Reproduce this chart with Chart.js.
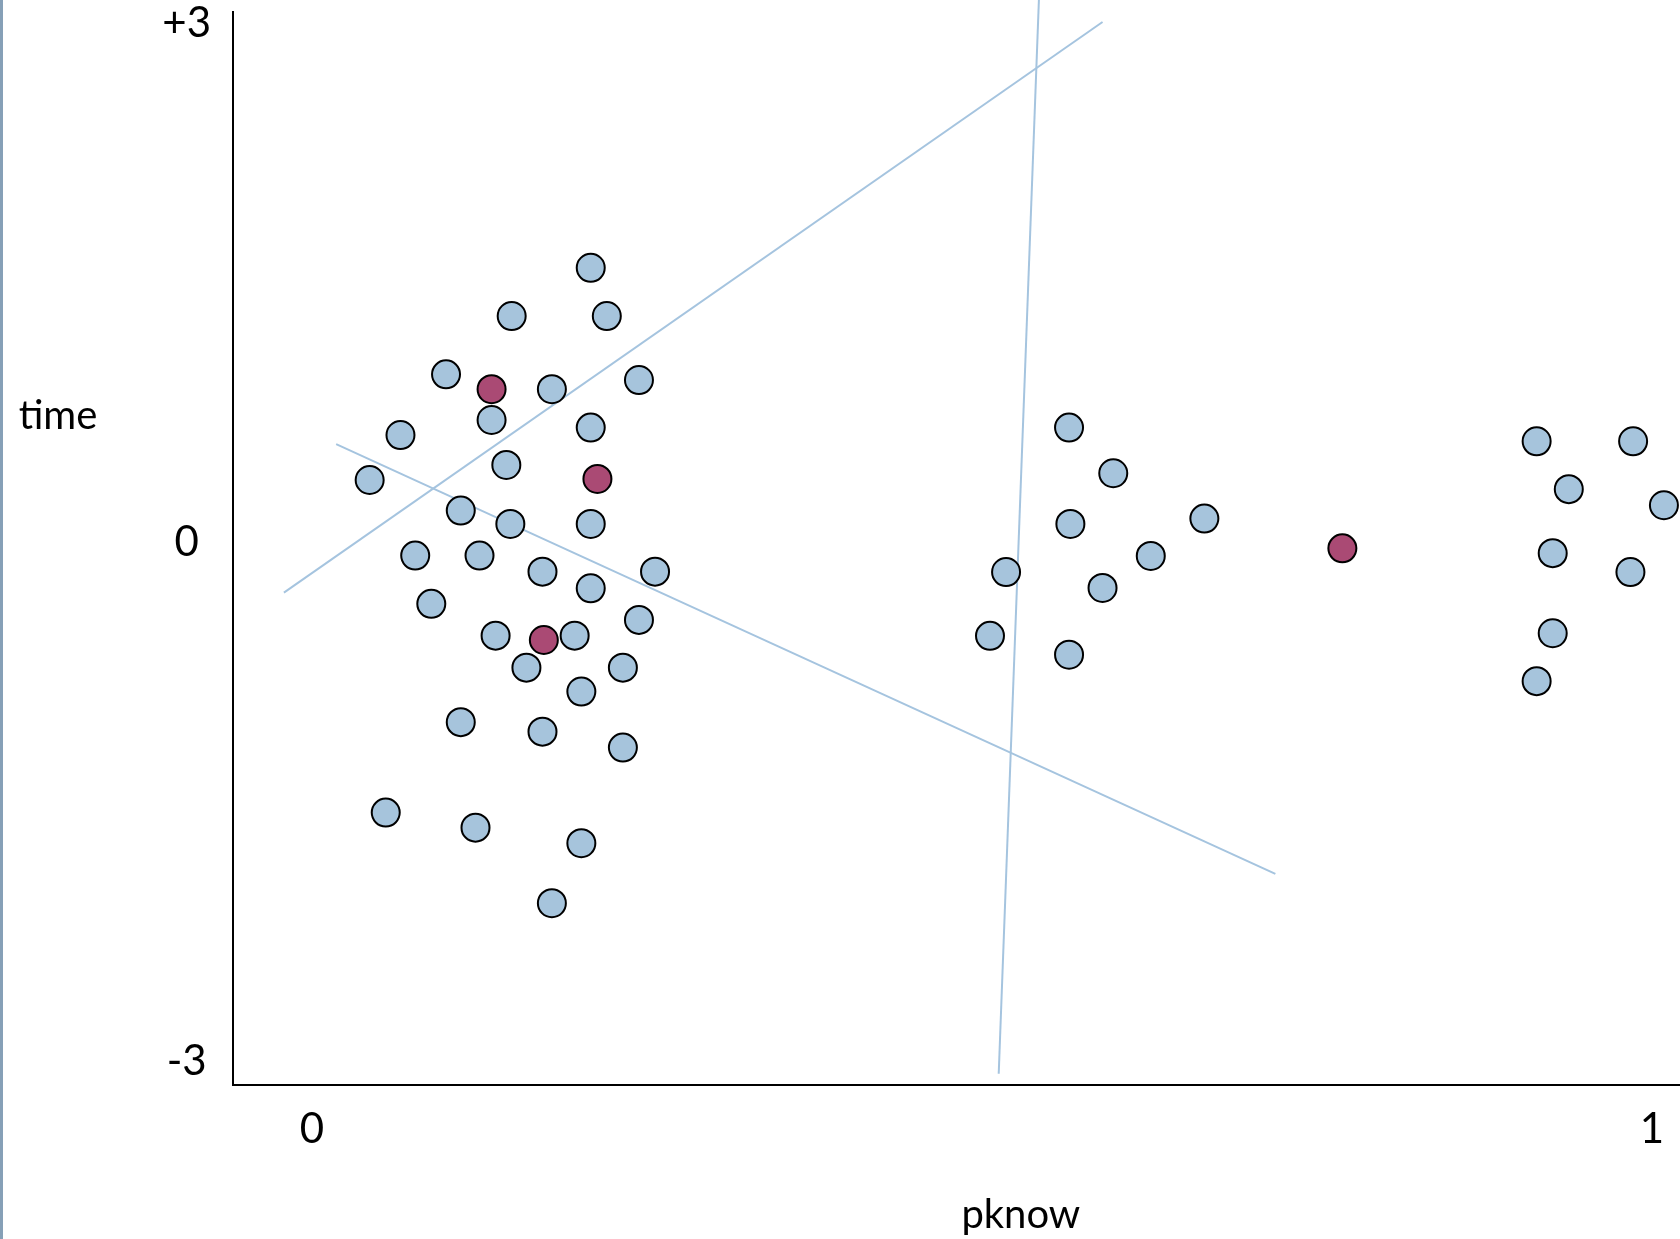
<!DOCTYPE html>
<html>
<head>
<meta charset="utf-8">
<script src="https://cdn.jsdelivr.net/npm/chart.js@4.4.1/dist/chart.umd.min.js"></script>
<style>
  html, body { margin: 0; padding: 0; background: #fff; overflow: hidden; }
  #wrap { position: relative; width: 1680px; height: 1239px; }
  #edge { position: absolute; left: 0; top: 0; width: 3px; height: 1239px; background: #86a0b7; }
</style>
</head>
<body>
<div id="wrap">
  <canvas id="scatter_chart"></canvas>
  <div id="edge"></div>
</div>
<script>
// points as [pknow, time]
var leftCluster = [
  [0.208, 1.588], [0.149, 1.309], [0.220, 1.309], [0.100, 0.972], [0.179, 0.886],
  [0.244, 0.939], [0.134, 0.708], [0.066, 0.621], [0.208, 0.664], [0.145, 0.448],
  [0.043, 0.361], [0.111, 0.184], [0.148, 0.107], [0.208, 0.107], [0.077, -0.076],
  [0.125, -0.076], [0.172, -0.169], [0.208, -0.265], [0.256, -0.169], [0.089, -0.355],
  [0.137, -0.539], [0.196, -0.539], [0.244, -0.448], [0.160, -0.724], [0.232, -0.724],
  [0.201, -0.862], [0.111, -1.039], [0.172, -1.094], [0.232, -1.186], [0.055, -1.562],
  [0.122, -1.649], [0.201, -1.739], [0.179, -2.086]
]
var midCluster = [
  [0.565, 0.664], [0.598, 0.400], [0.566, 0.107], [0.666, 0.138], [0.626, -0.078],
  [0.518, -0.171], [0.590, -0.263], [0.506, -0.540], [0.565, -0.649]
]
var rightCluster = [
  [0.914, 0.585], [0.986, 0.585], [0.938, 0.308], [1.009, 0.215], [0.926, -0.062],
  [0.984, -0.171], [0.926, -0.525], [0.914, -0.802]
]
var highlighted = [
  [0.134, 0.886], [0.213, 0.367], [0.173, -0.564], [0.769, -0.034]
]
var lineA = [[-0.021, -0.290], [0.590, 3.009]]
var lineB = [[0.018, 0.569], [0.719, -1.916]]
var lineC = [[0.5425, 3.136], [0.5125, -3.072]]

var xTickValues = [0, 1]
var xTickLabels = ["0", "1"]
var yTickValues = [-3, 0, 3]
var yTickLabels = ["-3", "0", "+3"]

var xTitle = "pknow"
var yTitle = "time"

var blueFill = "#a6c4dc"
var redFill = "#aa4a74"
var lineColor = "#a5c4df"
var fontFamily = "Lato, 'Liberation Sans', sans-serif"

function toXY(list) {
  return list.map(function (p) { return {x: p[0], y: p[1]} })
}

function lineDataset(list) {
  return {
    type: "line",
    data: toXY(list),
    borderColor: lineColor,
    borderWidth: 2,
    pointRadius: 0,
    showLine: true,
    fill: false,
    clip: false,
    order: 5
  }
}

var titlesPlugin = {
  id: "axisTitles",
  afterDraw: function (chart) {
    var ctx = chart.ctx
    var xs = chart.scales.x
    var ys = chart.scales.y
    ctx.save()
    ctx.fillStyle = "#000"
    ctx.font = "40px " + fontFamily
    ctx.textAlign = "center"
    ctx.textBaseline = "alphabetic"
    ctx.fillText(yTitle, 58, ys.getPixelForValue(0.655))
    ctx.fillText(xTitle, xs.getPixelForValue(0.529), 1228)
    ctx.restore()
  }
}

var ctx = document.getElementById("scatter_chart").getContext("2d")
new Chart(ctx, {
  type: "scatter",
  data: {
    datasets: [
      {
        data: toXY(highlighted),
        backgroundColor: redFill,
        borderColor: "#000",
        borderWidth: 2,
        pointRadius: 14,
        clip: false,
        order: 1
      },
      {
        data: toXY(leftCluster.concat(midCluster, rightCluster)),
        backgroundColor: blueFill,
        borderColor: "#000",
        borderWidth: 2,
        pointRadius: 14,
        clip: false,
        order: 2
      },
      lineDataset(lineA),
      lineDataset(lineB),
      lineDataset(lineC)
    ]
  },
  options: {
    responsive: true,
    maintainAspectRatio: false,
    animation: false,
    events: [],
    layout: {autoPadding: false, padding: {top: 12, left: 0, right: 0, bottom: 0}},
    plugins: {
      legend: {display: false},
      tooltip: {enabled: false}
    },
    scales: {
      x: {
        type: "linear",
        min: -0.059,
        max: 1.021,
        grid: {display: false, drawTicks: false},
        border: {display: true, color: "#000", width: 2},
        afterBuildTicks: function (scale) {
          scale.ticks = xTickValues.map(function (v) { return {value: v} })
        },
        afterFit: function (scale) {
          scale.height = 154
          scale.paddingLeft = 0
          scale.paddingRight = 0
        },
        ticks: {
          padding: 19,
          maxRotation: 0,
          autoSkip: false,
          color: "#000",
          font: {family: fontFamily, size: 42},
          callback: function (value) {
            return xTickLabels[xTickValues.indexOf(value)]
          }
        }
      },
      y: {
        type: "linear",
        min: -3.137,
        max: 3.067,
        grid: {display: false, drawTicks: false},
        border: {display: true, color: "#000", width: 2},
        afterBuildTicks: function (scale) {
          scale.ticks = yTickValues.map(function (v) { return {value: v} })
        },
        afterFit: function (scale) {
          scale.width = 233
          scale.paddingTop = 0
          scale.paddingBottom = 0
        },
        ticks: {
          padding: 22,
          crossAlign: "center",
          autoSkip: false,
          color: "#000",
          font: {family: fontFamily, size: 42},
          callback: function (value) {
            return yTickLabels[yTickValues.indexOf(value)]
          }
        }
      }
    }
  },
  plugins: [titlesPlugin]
})
</script>
</body>
</html>
